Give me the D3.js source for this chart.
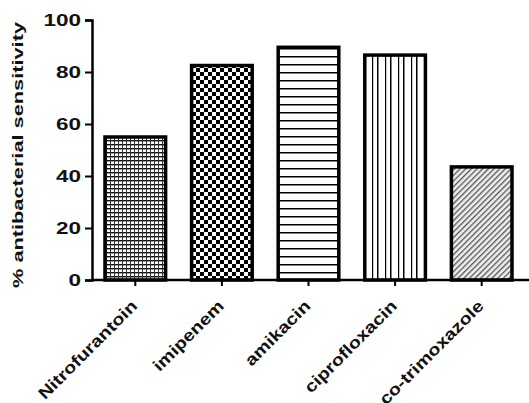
<!DOCTYPE html>
<html>
<head>
<meta charset="utf-8">
<script src="https://cdn.jsdelivr.net/npm/d3@7"></script>
<style>
  body { margin: 0; background: #fff; }
  text { font-family: "Liberation Sans", Arial, sans-serif; font-weight: bold; }
</style>
</head>
<body>
<div id="chart"></div>
<script>
var drugs = ["Nitrofurantoin", "imipenem", "amikacin", "ciprofloxacin", "co-trimoxazole"];
var sensitivity = [55, 82.5, 89.5, 86.5, 43.5];
var yTicks = [0, 20, 40, 60, 80, 100];
var patternIds = ["pNitro", "pImi", "pAmi", "pCipro", "pCotri"];

var width = 529, height = 403;
var margin = { top: 20, left: 92, bottom: 123 };

var svg = d3.select("#chart").append("svg")
  .attr("width", width)
  .attr("height", height);

var defs = svg.append("defs");

// nitrofurantoin: dense dotted rows
var p1 = defs.append("pattern").attr("id", "pNitro")
  .attr("patternUnits", "userSpaceOnUse").attr("width", 4).attr("height", 4);
p1.append("rect").attr("width", 4).attr("height", 4).attr("fill", "#fff");
p1.append("rect").attr("width", 4).attr("height", 1.4).attr("fill", "#111");
p1.append("rect").attr("x", 2).attr("width", 1).attr("height", 4).attr("fill", "#333");

// imipenem: checkerboard
var p2 = defs.append("pattern").attr("id", "pImi")
  .attr("patternUnits", "userSpaceOnUse").attr("width", 8).attr("height", 8);
p2.append("rect").attr("width", 8).attr("height", 8).attr("fill", "#fff");
p2.append("rect").attr("width", 4).attr("height", 4).attr("fill", "#000");
p2.append("rect").attr("x", 4).attr("y", 4).attr("width", 4).attr("height", 4).attr("fill", "#000");

// amikacin: horizontal lines
var p3 = defs.append("pattern").attr("id", "pAmi")
  .attr("patternUnits", "userSpaceOnUse").attr("width", 10).attr("height", 8);
p3.append("rect").attr("width", 10).attr("height", 8).attr("fill", "#fff");
p3.append("rect").attr("width", 10).attr("height", 1.5).attr("fill", "#000");

// ciprofloxacin: vertical lines
var p4 = defs.append("pattern").attr("id", "pCipro")
  .attr("patternUnits", "userSpaceOnUse").attr("width", 13).attr("height", 10);
p4.append("rect").attr("width", 13).attr("height", 10).attr("fill", "#fff");
p4.append("rect").attr("x", 0).attr("width", 1.5).attr("height", 10).attr("fill", "#000");
p4.append("rect").attr("x", 8).attr("width", 1.2).attr("height", 10).attr("fill", "#000");

// co-trimoxazole: fine diagonal hatching
var p5 = defs.append("pattern").attr("id", "pCotri")
  .attr("patternUnits", "userSpaceOnUse").attr("width", 4).attr("height", 4)
  .attr("patternTransform", "rotate(-45)");
p5.append("rect").attr("width", 4).attr("height", 4).attr("fill", "#eee");
p5.append("rect").attr("width", 4).attr("height", 1.3).attr("fill", "#555");

var x = d3.scaleBand()
  .domain(drugs)
  .range([margin.left, 525])
  .paddingInner(0.3)
  .paddingOuter(0.15);

var y = d3.scaleLinear()
  .domain([0, 100])
  .range([height - margin.bottom, margin.top]);

svg.selectAll("rect.bar")
  .data(drugs)
  .enter().append("rect")
  .attr("class", "bar")
  .attr("x", d => x(d))
  .attr("y", (d, i) => y(sensitivity[i]))
  .attr("width", x.bandwidth())
  .attr("height", (d, i) => y(0) - y(sensitivity[i]))
  .attr("fill", (d, i) => "url(#" + patternIds[i] + ")")
  .attr("stroke", "#000")
  .attr("stroke-width", 3.5);

// y axis
var yAxis = svg.append("g")
  .attr("transform", "translate(" + margin.left + ",0)")
  .call(d3.axisLeft(y).tickValues(yTicks).tickSize(7).tickPadding(4));
yAxis.select(".domain").attr("stroke-width", 2.5);
yAxis.selectAll(".tick line").attr("stroke-width", 2);
yAxis.selectAll("text").attr("font-size", 16).attr("fill", "#111")
  .attr("font-family", "Liberation Sans, Arial, sans-serif").attr("font-weight", "bold")
  .attr("textLength", d => String(d).length * 12.5)
  .attr("lengthAdjust", "spacingAndGlyphs");

// x axis
var xAxis = svg.append("g")
  .attr("transform", "translate(0," + y(0) + ")")
  .call(d3.axisBottom(x).tickSize(6).tickFormat(""));
xAxis.select(".domain").attr("d", "M" + margin.left + ",0H" + width).attr("stroke-width", 2.5);
xAxis.selectAll(".tick line").attr("stroke-width", 2);

svg.selectAll("text.xlab")
  .data(drugs)
  .enter().append("text")
  .attr("class", "xlab")
  .attr("transform", d => "translate(" + (x(d) + x.bandwidth() / 2 + 3) + "," + (y(0) + 27) + ") rotate(-45) scale(1.2,1)")
  .attr("text-anchor", "end")
  .attr("font-size", 16.5)
  .attr("fill", "#111")
  .text(d => d);

svg.append("text")
  .attr("transform", "translate(23," + 155 + ") rotate(-90)")
  .attr("text-anchor", "middle")
  .attr("font-size", 15)
  .attr("fill", "#111")
  .attr("textLength", 266)
  .attr("lengthAdjust", "spacingAndGlyphs")
  .text("% antibacterial sensitivity");
</script>
</body>
</html>
